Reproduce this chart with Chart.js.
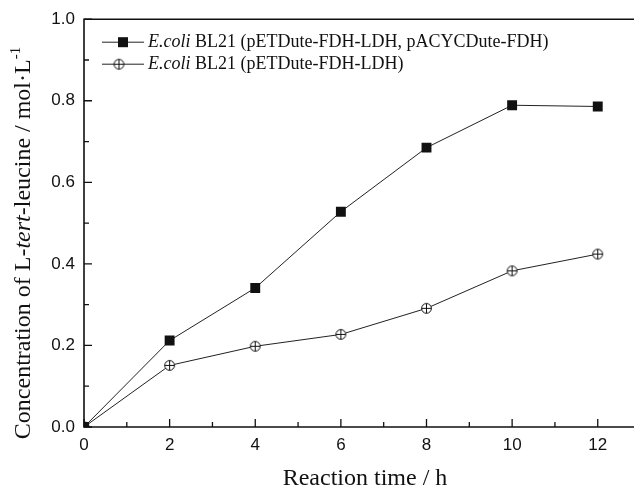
<!DOCTYPE html>
<html>
<head>
<meta charset="utf-8">
<title>L-tert-leucine production</title>
<script src="https://cdn.jsdelivr.net/npm/chart.js"></script>
<style>
  body { margin: 0; background: #fff; }
</style>
</head>
<body>
<canvas id="leuChart" width="639" height="489"></canvas>
<script>
// reaction time (h) and L-tert-leucine concentration (mol/L)
const hours = [0, 2, 4, 6, 8, 10, 12];
const coexpressed = [0, 0.212, 0.341, 0.528, 0.685, 0.789, 0.786];
const singleVector = [0, 0.151, 0.198, 0.227, 0.291, 0.383, 0.424];
const seriesNames = [
  ['E.coli', ' BL21 (pETDute-FDH-LDH, pACYCDute-FDH)'],
  ['E.coli', ' BL21 (pETDute-FDH-LDH)']
];
const xTitle = 'Reaction time / h';
// y title pieces: [text, italic, superscript]
const yTitle = [
  ['Concentration of L-', false, false],
  ['tert', true, false],
  ['-leucine / mol\u00b7L', false, false],
  ['-1', false, true]
];

const serif = '"Liberation Serif", "Times New Roman", serif';
const sans = '"Liberation Sans", Arial, sans-serif';
const ink = '#111';

// open circle with a plus through it
function circlePlus(r) {
  const c = document.createElement('canvas');
  const s = Math.ceil(r * 2 + 3);
  c.width = s; c.height = s;
  const g = c.getContext('2d');
  const m = s / 2;
  g.fillStyle = '#fff';
  g.strokeStyle = ink;
  g.lineWidth = 1;
  g.beginPath(); g.arc(m, m, r, 0, Math.PI * 2); g.fill(); g.stroke();
  g.beginPath();
  g.moveTo(m - r, m); g.lineTo(m + r, m);
  g.moveTo(m, m - r); g.lineTo(m, m + r);
  g.stroke();
  return c;
}
const circleMark = circlePlus(4.9);

function toPoints(ys) {
  return hours.map((h, i) => ({ x: h, y: ys[i] }));
}

// frame, inward ticks, legend and axis titles
const decorations = {
  id: 'decorations',
  afterDraw(chart) {
    const { ctx, chartArea: a, scales: { x, y } } = chart;
    ctx.save();
    ctx.strokeStyle = ink;
    ctx.lineWidth = 1.6;
    ctx.beginPath();
    ctx.moveTo(a.right + 2, a.top);
    ctx.lineTo(a.left, a.top);
    ctx.lineTo(a.left, a.bottom);
    ctx.lineTo(a.right + 2, a.bottom);
    ctx.stroke();

    ctx.lineWidth = 1.3;
    ctx.beginPath();
    x.ticks.forEach(t => {
      const px = x.getPixelForValue(t.value);
      ctx.moveTo(px, a.bottom); ctx.lineTo(px, a.bottom - 8);
      const mv = t.value + 1;
      if (mv < x.max) {
        const mp = x.getPixelForValue(mv);
        ctx.moveTo(mp, a.bottom); ctx.lineTo(mp, a.bottom - 5);
      }
    });
    y.ticks.forEach(t => {
      const py = y.getPixelForValue(t.value);
      ctx.moveTo(a.left, py); ctx.lineTo(a.left + 8, py);
      const mv = t.value + 0.1;
      if (mv < y.max) {
        const mp = y.getPixelForValue(mv);
        ctx.moveTo(a.left, mp); ctx.lineTo(a.left + 5, mp);
      }
    });
    ctx.stroke();

    // legend
    chart.data.datasets.forEach((ds, i) => {
      const ly = a.top + 23 + i * 22;
      const x0 = a.left + 18, x1 = a.left + 60;
      ctx.strokeStyle = ds.borderColor;
      ctx.lineWidth = 1;
      ctx.beginPath(); ctx.moveTo(x0, ly); ctx.lineTo(x1, ly); ctx.stroke();
      if (ds.pointStyle === 'rect') {
        const mx = x0 + 21;
        ctx.fillStyle = ink;
        ctx.fillRect(mx - 5, ly - 5, 10, 10);
      } else {
        const mx = x0 + 17;
        ctx.drawImage(ds.pointStyle, mx - ds.pointStyle.width / 2, ly - ds.pointStyle.height / 2);
      }
      ctx.fillStyle = ink;
      ctx.textBaseline = 'middle';
      ctx.textAlign = 'left';
      let tx = x1 + 4;
      ctx.font = 'italic 18px ' + serif;
      ctx.fillText(seriesNames[i][0], tx, ly);
      tx += ctx.measureText(seriesNames[i][0]).width;
      ctx.font = '18px ' + serif;
      ctx.fillText(seriesNames[i][1], tx, ly);
    });

    // x title
    ctx.fillStyle = ink;
    ctx.font = '24px ' + serif;
    ctx.textAlign = 'center';
    ctx.textBaseline = 'alphabetic';
    ctx.fillText(xTitle, 365, 485);

    // y title, rotated
    const fontFor = p => (p[1] ? 'italic ' : '') + (p[2] ? '15px ' : '24px ') + serif;
    let total = 0;
    yTitle.forEach(p => { ctx.font = fontFor(p); total += ctx.measureText(p[0]).width; });
    ctx.translate(24, 243);
    ctx.rotate(-Math.PI / 2);
    ctx.textAlign = 'left';
    ctx.textBaseline = 'middle';
    let cx = -total / 2;
    yTitle.forEach(p => {
      ctx.font = fontFor(p);
      ctx.fillText(p[0], cx, p[2] ? -8 : 0);
      cx += ctx.measureText(p[0]).width;
    });
    ctx.restore();
  }
};

new Chart(document.getElementById('leuChart'), {
  type: 'line',
  data: {
    datasets: [
      {
        label: seriesNames[0].join(''),
        data: toPoints(coexpressed),
        borderColor: '#222',
        borderWidth: 1,
        backgroundColor: ink,
        pointStyle: 'rect',
        pointRadius: 7,
        pointBorderWidth: 0,
        pointBackgroundColor: ink,
        tension: 0
      },
      {
        label: seriesNames[1].join(''),
        data: toPoints(singleVector),
        borderColor: '#222',
        borderWidth: 1,
        pointStyle: circleMark,
        pointRadius: 5,
        tension: 0
      }
    ]
  },
  options: {
    responsive: false,
    animation: false,
    layout: { padding: { top: 17, right: 0, left: 0, bottom: 0 } },
    plugins: { legend: { display: false }, tooltip: { enabled: false } },
    scales: {
      x: {
        type: 'linear',
        min: 0,
        max: 12.8,
        border: { display: false },
        grid: { display: false, drawTicks: false },
        ticks: {
          stepSize: 2,
          includeBounds: false,
          padding: 8,
          color: ink,
          font: { family: sans, size: 17 },
          maxRotation: 0
        },
        afterFit(scale) { scale.height = 62; }
      },
      y: {
        min: 0,
        max: 1,
        border: { display: false },
        grid: { display: false, drawTicks: false },
        ticks: {
          stepSize: 0.2,
          padding: 9,
          color: ink,
          font: { family: sans, size: 17 },
          callback: v => v.toFixed(1)
        },
        afterFit(scale) { scale.width = 84; }
      }
    }
  },
  plugins: [decorations]
});
</script>
</body>
</html>
